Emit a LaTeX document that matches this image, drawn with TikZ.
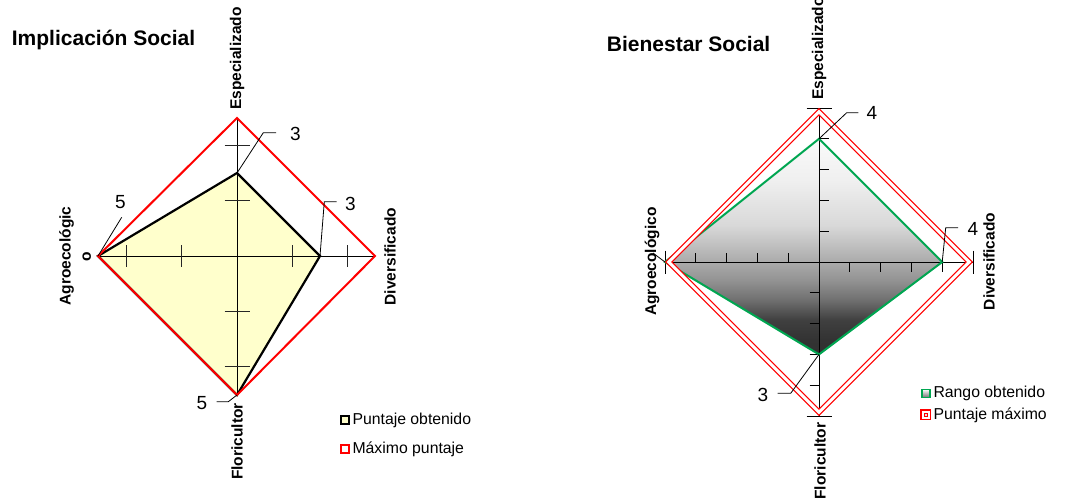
\documentclass[tikz,border=0pt]{standalone}
\usepackage{fontspec}
\setmainfont{Liberation Sans}
\definecolor{lyellow}{HTML}{FFFFCC}
\definecolor{grn}{RGB}{0,166,81}
\pgfdeclareverticalshading{rgrad}{100bp}{%
  rgb(0bp)=(0.19,0.19,0.19);
  rgb(25bp)=(0.19,0.19,0.19);
  rgb(28.5bp)=(0.2,0.2,0.2);
  rgb(33bp)=(0.25,0.25,0.25);
  rgb(37.7bp)=(0.44,0.44,0.44);
  rgb(42.4bp)=(0.58,0.58,0.58);
  rgb(46.5bp)=(0.67,0.67,0.67);
  rgb(55bp)=(0.85,0.85,0.85);
  rgb(65.5bp)=(0.94,0.94,0.94);
  rgb(75bp)=(0.98,0.98,0.98);
  rgb(100bp)=(0.98,0.98,0.98)}
\begin{document}
\begin{tikzpicture}[x=1pt,y=-1pt,
  axislbl/.style={font=\bfseries\fontsize{15.5}{18}\selectfont, inner sep=0pt, rotate=90},
  numlbl/.style={font=\fontsize{19}{22}\selectfont, inner sep=0pt},
  titlelbl/.style={font=\bfseries\fontsize{21}{25}\selectfont, inner sep=0pt, anchor=west},
  leglbl/.style={font=\fontsize{15.8}{18}\selectfont, inner sep=0pt, anchor=west},
  axisline/.style={black, line width=1pt},
  tickline/.style={black!85, line width=0.9pt},
  leader/.style={black, line width=0.8pt},
  maxline/.style={red, line width=2pt, line join=miter},
  dataline/.style={black, line width=2.2pt, line join=miter},
  greenline/.style={grn, line width=2pt, line join=miter},
  dblred/.style={draw=red, double=white, double distance=3pt, line width=1.2pt, line join=miter},
]
\useasboundingbox (0,0) rectangle (1092,499);
\clip (0,0) rectangle (1092,499);

% ================= LEFT CHART =================
\node[titlelbl] (t1) at (11.7,40) {Implicación Social};

\coordinate (LC) at (237,256);
\coordinate (LT) at (237,118);
\coordinate (LR) at (375,256);
\coordinate (LB) at (237,395);
\coordinate (LL) at (98,256);
\coordinate (DT) at (237,173);
\coordinate (DR) at (320,256);

\fill[lyellow] (DT) -- (DR) -- (LB) -- (LL) -- cycle;
\draw[axisline] (LL) -- (LR);
\draw[axisline] (LT) -- (LB);
\foreach \d in {-110.8,-55.4,55.4,110.8}{
  \draw[tickline] (237+\d,245) -- (237+\d,267);
  \draw[tickline] (224.5,256+\d) -- (249.5,256+\d);
}
\draw[dataline] (DT) -- (DR) -- (LB) -- (LL) -- cycle;
\draw[maxline] (LT) -- (LR) -- (LB) -- (LL) -- cycle;

% value labels
\coordinate (a1) at (263.3,132.7); \coordinate (a2) at (276,132.7);
\draw[leader] (DT) -- (a1) -- (a2);
\node[numlbl] (v1) at (295.3,133.7) {3};
\coordinate (b1) at (324.3,201.7); \coordinate (b2) at (336.7,201.7);
\draw[leader] (DR) -- (b1) -- (b2);
\node[numlbl] (v2) at (350.3,203.7) {3};
\coordinate (c1) at (121.7,217.3);
\draw[leader] (LL) -- (c1);
\node[numlbl] (v3) at (120.5,202) {5};
\coordinate (d1) at (228.3,401.7); \coordinate (d2) at (216.7,401.7);
\draw[leader] (LB) -- (d1) -- (d2);
\node[numlbl] (v4) at (202,403) {5};

% axis labels
\node[axislbl, anchor=west] (e1) at (237,110) {Especializado};
\node[axislbl, anchor=east] (f1) at (237,403) {Floricultor};
\node[axislbl] (g1) at (390,256.7) {Diversificado};
\node[axislbl] (h1) at (66.7,256) {Agroecológic};
\node[axislbl] (h1b) at (86.7,256.7) {o};

% legend
\draw[black, line width=1.8pt, fill=lyellow] (341,416) rectangle (349,424);
\node[leglbl] (l1) at (352.3,420) {Puntaje obtenido};
\draw[red, line width=1.8pt, fill=white] (341,445) rectangle (349,453);
\node[leglbl] (l2) at (352.3,449) {Máximo puntaje};

% ================= RIGHT CHART =================
\node[titlelbl] (t2) at (606.7,44) {Bienestar Social};

\coordinate (RC) at (819,262);
\coordinate (RT) at (819,108);
\coordinate (RR) at (973,262);
\coordinate (RB) at (819,416);
\coordinate (RL) at (665,262);
\coordinate (GT) at (819,138.8);
\coordinate (GR) at (942.2,262);
\coordinate (GB) at (819,354.4);

\shade[shading=rgrad] (GT) -- (GR) -- (GB) -- (RL) -- cycle;
\draw[axisline] (RL) -- (RR);
\draw[axisline] (RT) -- (RB);
\foreach \k in {1,2,3,4}{
  \draw[axisline] (819,262-30.8*\k) -- (828.5,262-30.8*\k);
  \draw[axisline] (809.5,262+30.8*\k) -- (819,262+30.8*\k);
  \draw[axisline] (819-30.8*\k,262) -- (819-30.8*\k,253);
  \draw[axisline] (819+30.8*\k,262) -- (819+30.8*\k,271.5);
}
\draw[axisline] (806.5,108) -- (831.5,108);
\draw[axisline] (806.5,416) -- (831.5,416);
\draw[axisline] (665,250.5) -- (665,273.5);
\draw[axisline] (973,250.5) -- (973,273.5);

\draw[greenline] (GT) -- (GR) -- (GB) -- (RL) -- cycle;
\draw[dblred] (819,111.8) -- (969.2,262) -- (819,412.2) -- (668.8,262) -- cycle;

% value labels
\coordinate (p1) at (846.7,112.7); \coordinate (p2) at (858.3,112.7);
\draw[leader] (GT) -- (p1) -- (p2);
\node[numlbl] (w1) at (872,113) {4};
\coordinate (q1) at (945.7,227.7); \coordinate (q2) at (958,227.7);
\draw[leader] (GR) -- (q1) -- (q2);
\node[numlbl] (w2) at (973,228.7) {4};
\coordinate (s1) at (790.7,393.3); \coordinate (s2) at (777.7,393.3);
\draw[leader] (GB) -- (s1) -- (s2);
\node[numlbl] (w3) at (763,394.5) {3};
\coordinate (u1) at (653,253);
\draw[leader] (RL) -- (u1);

% axis labels
\node[axislbl, anchor=west] (e2) at (819,100) {Especializado};
\node[axislbl, anchor=east] (f2) at (820,422.7) {Floricultor};
\node[axislbl] (g2) at (989,261.5) {Diversificado};
\node[axislbl] (h2) at (652,261.7) {Agroecológico};

% legend
\fill[white] (910,381.7) rectangle (1059,425);
\shade[top color=white, bottom color=black!55, draw=grn, line width=1.6pt] (921.8,389.3) rectangle (929.8,397.3);
\node[leglbl] (l3) at (933.3,393) {Rango obtenido};
\draw[red, line width=1.4pt, fill=white] (921,410) rectangle (930.6,419.6);
\draw[red, line width=1.1pt, fill=black!10] (924.1,413.1) rectangle (927.5,416.5);
\node[leglbl] (l4) at (933.3,415.7) {Puntaje máximo};
\end{tikzpicture}
\end{document}
